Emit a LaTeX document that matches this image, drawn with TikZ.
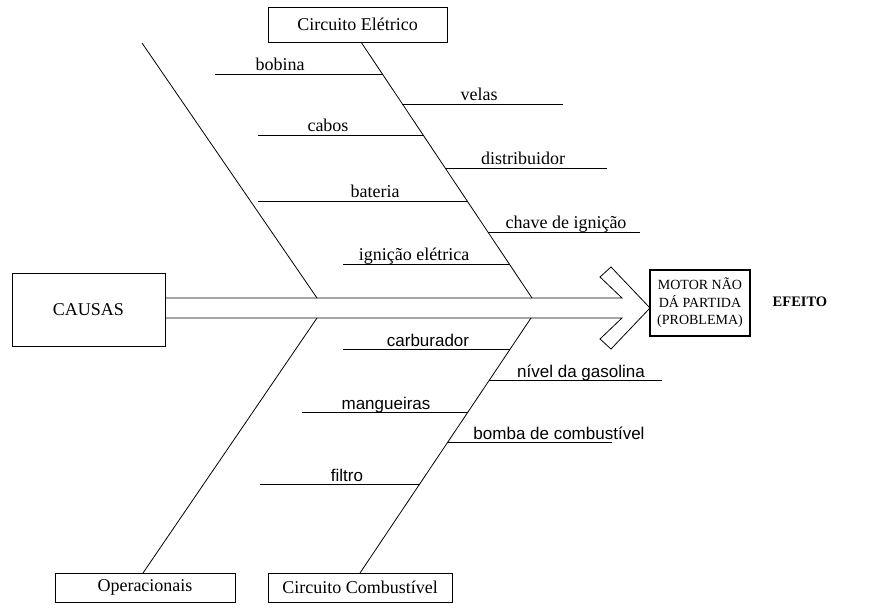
\documentclass[tikz,border=0pt]{standalone}
\usepackage{fontspec}
\setmainfont{Liberation Serif}
\setsansfont{Liberation Sans}
\begin{document}
\begin{tikzpicture}[x=1pt,y=-1pt,
  line/.style={line width=0.8pt},
  box/.style={draw,line width=0.9pt,inner sep=0pt,font=\fontsize{18}{21}\selectfont},
  lblserif/.style={anchor=base,inner sep=0pt,font=\fontsize{18}{21}\selectfont},
  lblsans/.style={anchor=base,inner sep=0pt,font=\sffamily\fontsize{17}{20}\selectfont}]
\useasboundingbox (0,0) rectangle (881,611);
% boxes
\node[box,minimum width=153pt,minimum height=73pt] (causas) at (88.5,309.5) {CAUSAS};
\node[box,minimum width=179pt,minimum height=35pt] (eletrico) at (357.5,24.5) {Circuito Elétrico};
\node[box,minimum width=180pt,minimum height=29pt] (oper) at (145,587.5) {Operacionais};
\node[box,minimum width=184pt,minimum height=29pt] (comb) at (360,587.5) {Circuito Combustível};
\node[draw,line width=1.6pt,minimum width=100pt,minimum height=66pt,align=center,inner sep=0pt,
  font=\fontsize{14}{17.5}\selectfont] (motor) at (700,303) {MOTOR NÃO\\DÁ PARTIDA\\(PROBLEMA)};
\node[inner sep=0pt,font=\bfseries\fontsize{14.5}{17}\selectfont] (efeito) at (800,302) {EFEITO};
% spine with open arrow
\coordinate (s1) at (165,298);
\coordinate (s2) at (165,318);
\coordinate (a1) at (622,298);
\coordinate (a2) at (600,277);
\coordinate (a3) at (611,267);
\coordinate (tip) at (650,308);
\coordinate (a5) at (611,349);
\coordinate (a6) at (600,339);
\coordinate (a7) at (622,318);
\draw[line,line join=miter] (s1) -- (a1) -- (a2) -- (a3) -- (tip) -- (a5) -- (a6) -- (a7) -- (s2);
% main bones
\coordinate (ul0) at (142,43);
\coordinate (ul1) at (317,298);
\coordinate (ur0) at (361,42);
\coordinate (ur1) at (532,298);
\coordinate (ll0) at (317,318);
\coordinate (ll1) at (143,573);
\coordinate (lr0) at (531,318);
\coordinate (lr1) at (360,573);
\draw[line] (ul0) -- (ul1);
\draw[line] (ur0) -- (ur1);
\draw[line] (ll0) -- (ll1);
\draw[line] (lr0) -- (lr1);
% upper sub-bones
\coordinate (b1) at (382.4,74);  \coordinate (b1e) at (215,74);
\coordinate (b2) at (402.4,104); \coordinate (b2e) at (563,104);
\coordinate (b3) at (423.1,135); \coordinate (b3e) at (258,135);
\coordinate (b4) at (445.2,168); \coordinate (b4e) at (607,168);
\coordinate (b5) at (467.2,201); \coordinate (b5e) at (258,201);
\coordinate (b6) at (487.9,232); \coordinate (b6e) at (640,232);
\coordinate (b7) at (509.3,264); \coordinate (b7e) at (343,264);
\foreach \i in {1,...,7} {\draw[line] (b\i) -- (b\i e);}
\node[lblserif] (t1) at (280,70) {bobina};
\node[lblserif] (t2) at (479,100) {velas};
\node[lblserif] (t3) at (328,131) {cabos};
\node[lblserif] (t4) at (523,164) {distribuidor};
\node[lblserif] (t5) at (375,197) {bateria};
\node[lblserif] (t6) at (566,228) {chave de ignição};
\node[lblserif] (t7) at (414,260) {ignição elétrica};
% lower sub-bones
\coordinate (c1) at (510.2,349); \coordinate (c1e) at (343,349);
\coordinate (c2) at (489.4,380); \coordinate (c2e) at (662,380);
\coordinate (c3) at (468.0,412); \coordinate (c3e) at (302,412);
\coordinate (c4) at (447.8,442); \coordinate (c4e) at (612,442);
\coordinate (c5) at (419.7,484); \coordinate (c5e) at (260,484);
\foreach \i in {1,...,5} {\draw[line] (c\i) -- (c\i e);}
\node[lblsans] (u1) at (428,346) {carburador};
\node[lblsans] (u2) at (581,377) {nível da gasolina};
\node[lblsans] (u3) at (386,409) {mangueiras};
\node[lblsans] (u4) at (559,439) {bomba de combustível};
\node[lblsans] (u5) at (347,481) {filtro};
\end{tikzpicture}
\end{document}
